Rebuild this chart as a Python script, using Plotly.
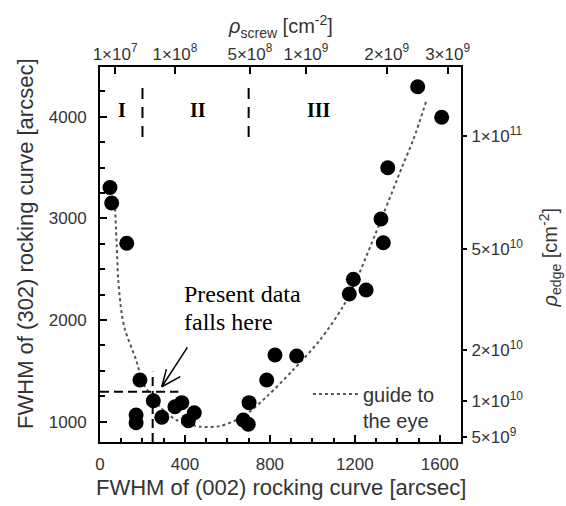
import numpy as np
import plotly.graph_objects as go

# Measured FWHM values (arcsec) of the (002) and (302) rocking curves
fwhm_002 = [47, 55, 126, 188, 251, 170, 170, 291, 353, 385, 416, 444,
            675, 698, 702, 785, 824, 926, 1174, 1193, 1253, 1334, 1323,
            1355, 1496, 1609]
fwhm_302 = [3304, 3152, 2755, 1410, 1206, 1066, 990, 1043, 1147, 1187,
            1010, 1088, 1016, 974, 1187, 1410, 1656, 1646, 2256, 2401,
            2296, 2761, 2994, 3499, 4296, 3995]

# Hand-drawn guide to the eye
guide_002 = [71, 79, 86, 102, 118, 170, 203, 283, 361, 471, 565, 673, 785,
             909, 1036, 1144, 1201, 1334, 1421, 1475, 1538]
guide_302 = [3100, 2722, 2394, 2066, 1902, 1607, 1380, 1144, 1016, 951,
             957, 1049, 1246, 1508, 1804, 2131, 2365, 3040, 3499, 3772, 4165]

# Screw dislocation density scale (top axis): label and its FWHM(002) position
screw_tick_labels = ["1×10<sup>7</sup>", "1×10<sup>8</sup>", "5×10<sup>8</sup>",
                     "1×10<sup>9</sup>", "2×10<sup>9</sup>", "3×10<sup>9</sup>"]
screw_tick_fwhm = [71, 353, 706, 970, 1350, 1637]

# Edge dislocation density scale (right axis): FWHM(302) = k * sqrt(rho_edge)
edge_densities = [5e9, 1e10, 2e10, 5e10, 1e11]
edge_tick_labels = ["5×10<sup>9</sup>", "1×10<sup>10</sup>", "2×10<sup>10</sup>",
                    "5×10<sup>10</sup>", "1×10<sup>11</sup>"]
edge_k = 0.01205

# Region boundaries and labels
region_bounds = [200, 700]
region_labels = ["I", "II", "III"]
region_label_x = [104, 463, 1032]

# Present sample marker position and callout arrow (tip, tail)
present_002 = 248
present_302 = 1295
arrow_tip = (291, 1344)
arrow_tail = (416, 1745)

x_range = [0, 1700]
y_range = [800, 4490]

sans = "Liberation Sans, Arial, sans-serif"
serif = "Liberation Serif, Times New Roman, serif"
grey = "#333333"

fig = go.Figure()

fig.add_trace(go.Scatter(
    x=guide_002, y=guide_302, mode="lines",
    line=dict(color="#555555", width=2, dash="dot", shape="spline", smoothing=0.8),
    name="guide to<br>the eye", showlegend=True,
))

fig.add_trace(go.Scatter(
    x=fwhm_002, y=fwhm_302, mode="markers",
    marker=dict(color="black", size=15, line=dict(width=0)),
    showlegend=False,
))

edge_tick_pos = [edge_k * np.sqrt(r) for r in edge_densities]

tickfont = dict(family=sans, size=17, color=grey)

fig.update_layout(
    width=566, height=506, autosize=False,
    margin=dict(l=100, r=105, t=67, b=64, pad=0),
    paper_bgcolor="white", plot_bgcolor="white",
    xaxis=dict(
        range=x_range, tick0=0, dtick=400, ticks="inside", ticklen=7,
        tickwidth=1.5, tickcolor="black", showline=True, linecolor="black",
        linewidth=2, mirror=True, showgrid=False, zeroline=False,
        tickfont=tickfont, ticklabelstandoff=6,
        minor=dict(dtick=100, ticks="inside", ticklen=4, tickcolor="black",
                   tickwidth=1.5, showgrid=False),
    ),
    xaxis2=dict(
        range=x_range, overlaying="x", side="top", anchor="y",
        tickmode="array", tickvals=screw_tick_fwhm, ticktext=screw_tick_labels,
        ticks="inside", ticklen=7, tickwidth=1.5, tickcolor="black",
        showline=False, showgrid=False, zeroline=False, tickfont=tickfont,
        ticklabelstandoff=3,
    ),
    yaxis=dict(
        range=y_range, tick0=0, dtick=1000, ticks="inside", ticklen=7,
        tickwidth=1.5, tickcolor="black", showline=True, linecolor="black",
        linewidth=2, mirror=True, showgrid=False, zeroline=False,
        tickfont=tickfont, ticklabelstandoff=8,
        minor=dict(dtick=250, ticks="inside", ticklen=5, tickcolor="black",
                   tickwidth=1.5, showgrid=False),
    ),
    yaxis2=dict(
        range=y_range, overlaying="y", side="right", anchor="x",
        tickmode="array", tickvals=edge_tick_pos, ticktext=edge_tick_labels,
        ticks="outside", ticklen=5, tickwidth=1.5, tickcolor="black",
        showline=False, showgrid=False, zeroline=False, tickfont=tickfont,
        ticklabelstandoff=1,
    ),
    legend=dict(
        x=0.576, y=0.18, xanchor="left", yanchor="top",
        bgcolor="rgba(0,0,0,0)", borderwidth=0,
        font=dict(family=sans, size=20, color=grey),
        itemwidth=45, valign="top",
    ),
    showlegend=True,
)

# dummy trace so the secondary axes are active
fig.add_trace(go.Scatter(x=[None], y=[None], xaxis="x2", yaxis="y2",
                         showlegend=False, hoverinfo="skip"))

shapes = []
for xb in region_bounds:
    shapes.append(dict(type="line", xref="x", yref="y", x0=xb, x1=xb,
                       y0=3800, y1=4283,
                       line=dict(color="black", width=2, dash="11px,8px")))
shapes.append(dict(type="line", xref="x", yref="y", x0=0, x1=369,
                   y0=present_302, y1=present_302,
                   line=dict(color="black", width=2, dash="9px,5px")))
shapes.append(dict(type="line", xref="x", yref="y", x0=present_002,
                   x1=present_002, y0=y_range[0], y1=1492,
                   line=dict(color="black", width=2, dash="9px,5px")))
fig.update_layout(shapes=shapes)

ann = []
for lab, xl in zip(region_labels, region_label_x):
    ann.append(dict(x=xl, y=4067, xref="x", yref="y", text="<b>%s</b>" % lab,
                    showarrow=False, font=dict(family=serif, size=20, color="black"),
                    xanchor="center", yanchor="middle"))
# callout text, one annotation per line for tighter leading
for line_text, ytop in (("Present data", 2404), ("falls here", 2131)):
    ann.append(dict(x=385, y=ytop, xref="x", yref="y", text=line_text,
                    showarrow=False, xanchor="left", yanchor="top", align="left",
                    font=dict(family=serif, size=24, color="black")))
# callout arrow: shaft plus an open "V" head made of two thin strokes
arrow_style = dict(text="", showarrow=True, arrowhead=0, arrowwidth=1.5,
                   arrowcolor="black", standoff=0, startstandoff=0)
ann.append(dict(x=arrow_tip[0], y=arrow_tip[1], xref="x", yref="y",
                ax=arrow_tail[0], ay=arrow_tail[1], axref="x", ayref="y",
                **arrow_style))
for dx, dy in ((5, -19), (20, -11)):
    ann.append(dict(x=arrow_tip[0], y=arrow_tip[1], xref="x", yref="y",
                    ax=dx, ay=dy, axref="pixel", ayref="pixel", **arrow_style))
ann.append(dict(x=0.5, y=-0.12, xref="paper", yref="paper",
                text="FWHM of (002) rocking curve [arcsec]", showarrow=False,
                xanchor="center", yanchor="middle",
                font=dict(family=sans, size=22, color=grey)))
ann.append(dict(x=-0.208, y=0.528, xref="paper", yref="paper",
                text="FWHM of (302) rocking curve [arcsec]", showarrow=False,
                textangle=-90, xanchor="center", yanchor="middle",
                font=dict(family=sans, size=22, color=grey)))
ann.append(dict(x=0.5, y=1.108, xref="paper", yref="paper",
                text="<i>ρ</i><sub>screw</sub> [cm<sup>-2</sup>]", showarrow=False,
                xanchor="center", yanchor="middle",
                font=dict(family=sans, size=20, color=grey)))
ann.append(dict(x=1.248, y=0.491, xref="paper", yref="paper",
                text="<i>ρ</i><sub>edge</sub> [cm<sup>-2</sup>]", showarrow=False,
                textangle=-90, xanchor="center", yanchor="middle",
                font=dict(family=sans, size=20, color=grey)))
fig.update_layout(annotations=ann)

fig.write_html("out.html")
